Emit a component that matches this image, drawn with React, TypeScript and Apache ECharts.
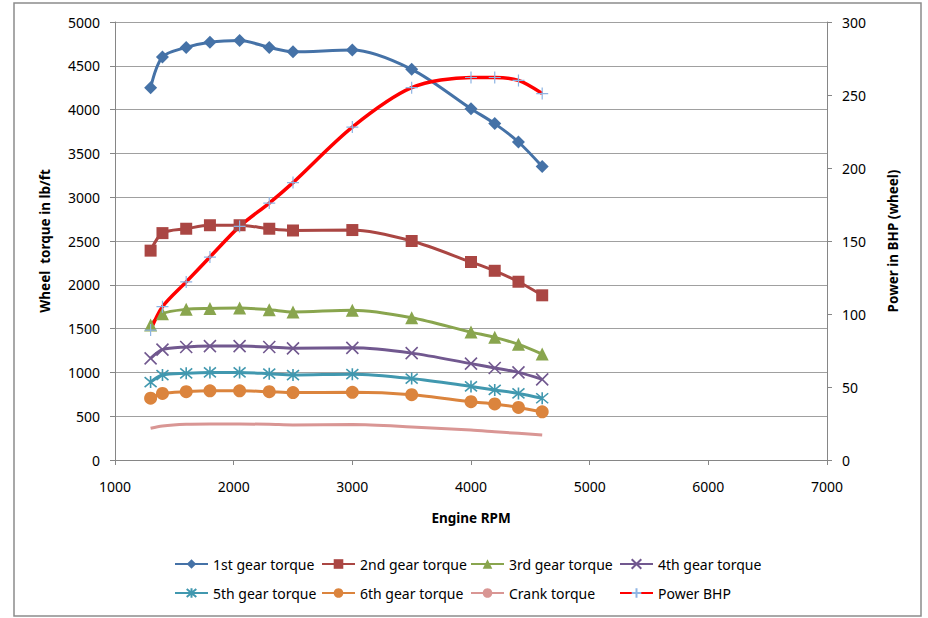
import React, { useEffect, useRef } from "react";
import * as echarts from "echarts";

const rpm = [1300, 1400, 1600, 1800, 2050, 2300, 2500, 3000, 3500, 4000, 4200, 4400, 4600];
const gear1 = [4250, 4600, 4710, 4770, 4790, 4710, 4660, 4680, 4460, 4010, 3840, 3630, 3350];
const gear2 = [2390, 2590, 2640, 2680, 2680, 2640, 2620, 2625, 2500, 2260, 2160, 2035, 1880];
const gear3 = [1540, 1670, 1720, 1730, 1735, 1715, 1690, 1710, 1625, 1460, 1400, 1320, 1210];
const gear4 = [1160, 1260, 1290, 1300, 1300, 1290, 1275, 1280, 1220, 1100, 1050, 1000, 920];
const gear5 = [890, 970, 990, 1000, 1000, 985, 970, 980, 930, 840, 800, 760, 705];
const gear6 = [705, 760, 780, 790, 790, 780, 770, 772, 745, 665, 640, 600, 550];
const crank = [362, 388, 407, 411, 411, 407, 400, 404, 378, 342, 323, 304, 285];
const power = [89, 105, 122, 139, 160, 176, 190, 228, 255, 262, 262, 260, 251];

const seriesNames = [
  "1st gear torque",
  "2nd gear torque",
  "3rd gear torque",
  "4th gear torque",
  "5th gear torque",
  "6th gear torque",
  "Crank torque",
  "Power BHP",
];

const FONT = "Noto Sans";
const legendLeft = [174, 321, 470, 619];
const legendTop = [557, 586];

const X_PATH = "path://M0,0L10,10M10,0L0,10";
const STAR_PATH = "path://M0,0L10,10M10,0L0,10M5,-1L5,11";
const PLUS_PATH = "path://M5,0L5,10M0,5L10,5";

function pairs(ys: number[]) {
  return rpm.map((x, i) => [x, ys[i]]);
}

export default function App() {
  const ref = useRef<HTMLDivElement>(null);
  useEffect(() => {
    if (!ref.current) return;
    const chart = echarts.init(ref.current, null, { renderer: "svg" });
    const axisColor = "#868686";
    const plain = (v: number) => String(v);
    const mk = (
      name: string,
      ys: number[],
      color: string,
      symbol: string,
      symbolSize: number | number[],
      extra: any = {}
    ) => ({
      name,
      type: "line",
      data: pairs(ys),
      smooth: 0.3,
      symbol,
      symbolSize,
      showSymbol: symbol !== "none",
      lineStyle: { color, width: 3 },
      itemStyle: { color },
      emphasis: { disabled: true },
      ...extra,
    });
    const series = [
      mk(seriesNames[0], gear1, "#4572A7", "diamond", [13, 13]),
      mk(seriesNames[1], gear2, "#AA4643", "rect", 12),
      mk(seriesNames[2], gear3, "#89A54E", "triangle", 13),
      mk(seriesNames[3], gear4, "#71588F", X_PATH, 12, {
        itemStyle: { color: "#71588F", borderColor: "#71588F", borderWidth: 1.6 },
      }),
      mk(seriesNames[4], gear5, "#4198AF", STAR_PATH, 12, {
        itemStyle: { color: "#4198AF", borderColor: "#4198AF", borderWidth: 1.6 },
      }),
      mk(seriesNames[5], gear6, "#DB843D", "circle", 13),
      mk(seriesNames[6], crank, "#D99694", "none", 0),
      mk(seriesNames[7], power, "#FF0000", PLUS_PATH, 12, {
        yAxisIndex: 1,
        lineStyle: { color: "#FF0000", width: 3.5 },
        itemStyle: { color: "#8EB4E3", borderColor: "#8EB4E3", borderWidth: 1.2 },
      }),
    ];
    const legends = seriesNames.map((n, i) => ({
      data: [n],
      left: legendLeft[i % 4],
      top: legendTop[i < 4 ? 0 : 1],
      padding: 0,
      itemWidth: 33,
      itemHeight: 12,
      selectedMode: false,
      textStyle: { fontFamily: FONT, fontSize: 14, color: "#000" },
    }));
    const titleStyle = { fontFamily: FONT, fontWeight: "bold", fontSize: 13.5, color: "#000" };
    const labelStyle = { fontFamily: FONT, fontSize: 14, color: "#000", formatter: plain };
    chart.setOption({
      animation: false,
      textStyle: { fontFamily: FONT },
      grid: { left: 115, right: 101, top: 22, bottom: 158, containLabel: false },
      legend: legends,
      graphic: [
        {
          type: "rect",
          silent: true,
          z: -1,
          shape: { x: 14, y: 3, width: 907, height: 613 },
          style: { fill: "none", stroke: "#8c8c8c", lineWidth: 1.5 },
        },
      ],
      xAxis: {
        type: "value",
        min: 1000,
        max: 7000,
        interval: 1000,
        name: "Engine RPM",
        nameLocation: "middle",
        nameGap: 51,
        nameTextStyle: titleStyle,
        axisLine: { show: true, onZero: false, lineStyle: { color: axisColor } },
        axisTick: { show: true, length: 5, lineStyle: { color: axisColor } },
        axisLabel: { margin: 19, ...labelStyle },
        splitLine: { show: false },
      },
      yAxis: [
        {
          type: "value",
          min: 0,
          max: 5000,
          interval: 500,
          position: "left",
          name: "Wheel  torque in lb/ft",
          nameLocation: "middle",
          nameRotate: 90,
          nameGap: 63,
          nameTextStyle: titleStyle,
          axisLine: { show: true, lineStyle: { color: axisColor } },
          axisTick: { show: true, length: 5, lineStyle: { color: axisColor } },
          axisLabel: { margin: 15, ...labelStyle },
          splitLine: { show: true, lineStyle: { color: "#a0a0a0", width: 1 } },
        },
        {
          type: "value",
          min: 0,
          max: 300,
          interval: 50,
          position: "right",
          name: "Power in BHP (wheel)",
          nameLocation: "middle",
          nameRotate: 90,
          nameGap: 59,
          nameTextStyle: titleStyle,
          axisLine: { show: true, lineStyle: { color: axisColor } },
          axisTick: { show: true, length: 5, lineStyle: { color: axisColor } },
          axisLabel: { margin: 15, ...labelStyle },
          splitLine: { show: false },
        },
      ],
      series,
    });
    return () => chart.dispose();
  }, []);
  return (
    <div
      ref={ref}
      style={{ position: "absolute", left: 0, top: 0, width: 928, height: 618, background: "#fff" }}
    />
  );
}
